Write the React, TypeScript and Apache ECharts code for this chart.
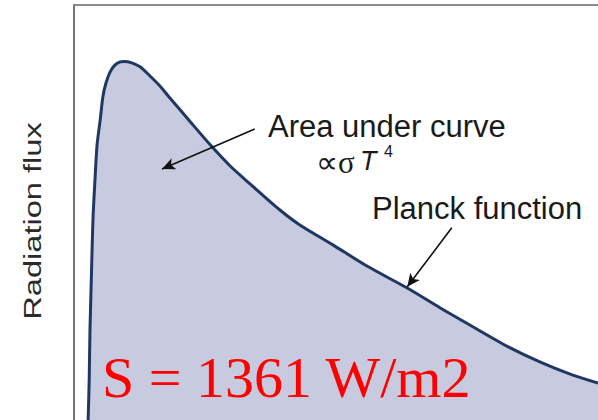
import { useEffect, useRef } from 'react';
import * as echarts from 'echarts';

// Planck curve, sampled along the (unitless) wavelength axis
const wavelength = [
  2.7, 2.9, 3.05, 3.25, 3.45, 3.65, 4.0, 4.4, 5.0, 5.5, 6.1, 6.9, 7.8, 8.8, 9.7,
  10.9, 12.6, 14.5, 16.4, 18.3, 22.1, 26.0, 29.8, 33.6, 39.3, 43.1, 49.4,
  55.9, 63.6, 69.9, 76.2, 82.6, 88.9, 95.2, 100,
];
const flux = [
  0, 9.6, 21.7, 31.3, 41.0, 49.4, 57.8, 66.3, 72.3, 77.8, 81.2, 83.9, 85.5, 86.3,
  86.4, 86.1, 85.1, 82.9, 80.5, 77.6, 72.0, 66.3, 61.2, 56.9, 50.6, 47.0,
  42.2, 37.1, 31.8, 27.0, 22.4, 17.8, 14.0, 10.8, 8.9,
];

// Annotation arrows: [tail, head] in axis units
const areaArrow = [[34.5, 70.1], [16.8, 60.5]];
const planckArrow = [[72.1, 46.3], [63.6, 32.1]];

const yAxisTitle = 'Radiation flux';
const areaNote = 'Area under curve';
const planckNote = 'Planck function';
const solarConstant = 'S = 1361 W/m2';

export default function App() {
  const ref = useRef<HTMLDivElement>(null);

  useEffect(() => {
    document.body.style.margin = '0';
    if (!ref.current) return;
    const chart = echarts.init(ref.current, null, { renderer: 'svg' });

    const arrowLine = (pts: number[][]) => [
      { coord: pts[0], symbol: 'none' },
      { coord: pts[1], symbol: 'arrow' },
    ];

    const label = (x: number, y: number, text: string, font: string, fill = '#1a1a1a') => ({
      type: 'text',
      x,
      y,
      z: 100,
      style: { text, font, fill, align: 'left', verticalAlign: 'middle' },
    });

    chart.setOption({
      animation: false,
      backgroundColor: '#ffffff',
      grid: { left: 74, top: 5, right: 0, bottom: 0 },
      xAxis: {
        type: 'value',
        min: 0,
        max: 100,
        position: 'top',
        axisLine: { show: true, onZero: false, lineStyle: { color: '#8c8c8c', width: 2 } },
        axisTick: { show: false },
        axisLabel: { show: false },
        splitLine: { show: false },
      },
      yAxis: {
        type: 'value',
        min: 0,
        max: 100,
        axisLine: { show: true, onZero: false, lineStyle: { color: '#444444', width: 1.5 } },
        axisTick: { show: false },
        axisLabel: { show: false },
        splitLine: { show: false },
      },
      series: [
        {
          type: 'line',
          data: wavelength.map((w, i) => [w, flux[i]]),
          smooth: 0.25,
          symbol: 'none',
          lineStyle: { color: '#1f3763', width: 3 },
          areaStyle: { color: '#c8cbe0', opacity: 1 },
          markLine: {
            silent: true,
            symbolSize: [9, 13],
            label: { show: false },
            lineStyle: { color: '#111111', width: 1.6, type: 'solid' },
            data: [arrowLine(areaArrow), arrowLine(planckArrow)],
          },
        },
      ],
      graphic: [
        {
          type: 'text',
          x: 33,
          y: 221,
          z: 100,
          rotation: Math.PI / 2,
          scaleX: 1.36,
          style: {
            text: yAxisTitle,
            font: '24px "Liberation Sans", Arial, sans-serif',
            fill: '#2a2a2a',
            align: 'center',
            verticalAlign: 'middle',
          },
        },
        label(268, 126, areaNote, '31px "Liberation Sans", Arial, sans-serif'),
        label(316, 162, '∝σ', '31px "Liberation Serif", "Times New Roman", serif'),
        label(360, 161, 'T', 'italic 27px "Liberation Sans", Arial, sans-serif'),
        label(384, 151, '4', '16px "Liberation Sans", Arial, sans-serif'),
        label(372, 208, planckNote, '31px "Liberation Sans", Arial, sans-serif'),
        label(102, 377, solarConstant, '58px "Liberation Serif", "Times New Roman", serif', '#ff0000'),
      ],
    });

    return () => chart.dispose();
  }, []);

  return <div ref={ref} style={{ width: 598, height: 420 }} />;
}
